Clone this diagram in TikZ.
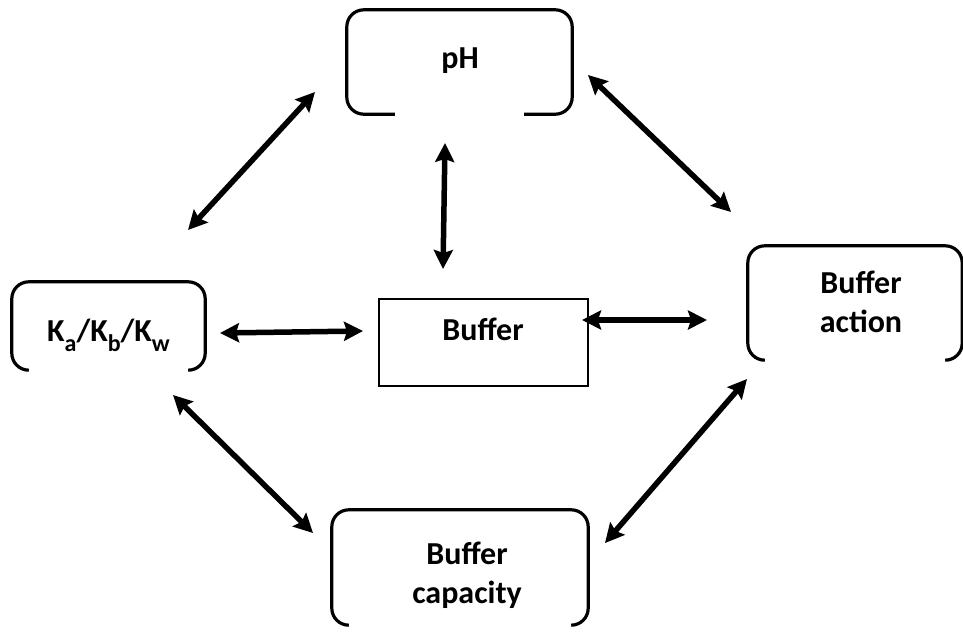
\documentclass[tikz,border=0pt]{standalone}
\usepackage{fontspec}
\setmainfont{Carlito}
\usetikzlibrary{arrows.meta,calc}

\newcommand{\sbs}[1]{\raisebox{-10pt}{\fontsize{24}{24}\selectfont #1}}

\begin{document}
\begin{tikzpicture}[x=1pt,y=-1pt,
  area/.style={draw=none,inner sep=0pt,minimum width=#1},
  lbl/.style={font=\bfseries\fontsize{32}{39}\selectfont,align=center,inner sep=0pt},
  outline/.style={line width=3.2pt,rounded corners=17pt},
  link/.style={line width=5.5pt,{Stealth[length=19pt,width=19pt,inset=3pt]}-{Stealth[length=19pt,width=19pt,inset=3pt]}}
]
\useasboundingbox (0,0) rectangle (963,635);

% box areas
\node[area=225pt,minimum height=104pt] (ph)  at (459.5,62) {};
\node[area=193pt,minimum height=88pt]  (k)   at (108.5,326) {};
\node[area=214pt,minimum height=114pt] (act) at (855,303) {};
\node[area=256pt,minimum height=115pt] (cap) at (460,567.5) {};
\node[draw,line width=2.2pt,minimum width=209pt,minimum height=87pt,inner sep=0pt] (buf) at (483.5,342.5) {};

% outlines with open bottoms
\draw[outline] ($(ph.south west)+(48,0)$) -- (ph.south west) -- (ph.north west) -- (ph.north east) -- (ph.south east) -- ($(ph.south east)+(-48,0)$);
\draw[outline] ($(k.south west)+(17,0)$) -- (k.south west) -- (k.north west) -- (k.north east) -- (k.south east) -- ($(k.south east)+(-17,0)$);
\draw[outline] ($(act.south west)+(17,0)$) -- (act.south west) -- (act.north west) -- (act.north east) -- (act.south east) -- ($(act.south east)+(-17,0)$);
\draw[outline] ($(cap.south west)+(17,0)$) -- (cap.south west) -- (cap.north west) -- (cap.north east) -- (cap.south east) -- ($(cap.south east)+(-17,0)$);

% labels
\node[lbl,anchor=base] (phl) at (460,68) {pH};
\node[lbl,anchor=base] (kl) at (108.5,341) {K\sbs{a}/K\sbs{b}/K\sbs{w}};
\node[lbl,anchor=base] (bl) at (483,340) {Buffer};
\node[lbl] (actl) at (861,302) {Buffer\\action};
\node[lbl] (capl) at (467,575) {Buffer\\capacity};

% connector ends
\coordinate (p1) at (315,92);  \coordinate (k1) at (188,230);
\coordinate (p2) at (445,143); \coordinate (b1) at (443,269);
\coordinate (p3) at (588,75);  \coordinate (a1) at (731,212);
\coordinate (k2) at (220,333); \coordinate (b2) at (363,331);
\coordinate (b3) at (582,320); \coordinate (a2) at (707,320);
\coordinate (k3) at (173,395); \coordinate (c1) at (313,533);
\coordinate (c2) at (605,543); \coordinate (a3) at (747,379);

\draw[link] (k1) -- (p1);
\draw[link] (p2) -- (b1);
\draw[link] (p3) -- (a1);
\draw[link] (k2) -- (b2);
\draw[link] (b3) -- (a2);
\draw[link] (k3) -- (c1);
\draw[link] (c2) -- (a3);
\end{tikzpicture}
\end{document}
